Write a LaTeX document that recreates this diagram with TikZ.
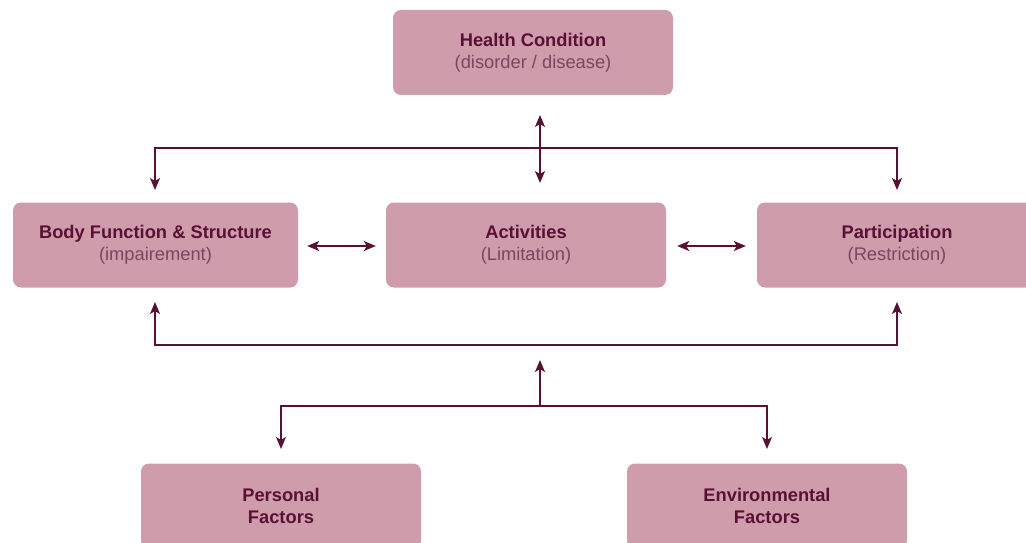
\documentclass[tikz,border=0pt]{standalone}
\usepackage{fontspec}
\setmainfont{Liberation Sans}
\usetikzlibrary{arrows.meta,positioning}
\definecolor{boxfill}{HTML}{CF9CAB}
\definecolor{darkplum}{HTML}{5A1035}
\definecolor{softplum}{HTML}{7A4660}

\tikzset{
  icfbox/.style={rectangle,rounded corners=8pt,fill=boxfill,minimum width=280pt,
    minimum height=85pt,align=center,text=darkplum,inner sep=0pt,
    font=\fontsize{18.3}{22}\selectfont},
  link/.style={draw=darkplum,line width=1.4pt},
}

\begin{document}
\begin{tikzpicture}[x=1pt,y=-1pt,>={Stealth[length=12pt,width=10pt,inset=3pt]}]
\clip (0,0) rectangle (1026,543);
% boxes
\node[icfbox] (hc) at (533,52.5) {\textbf{Health Condition}\\{\color{softplum}(disorder / disease)}};
\node[icfbox,minimum width=285pt] (bfs) at (155.5,245) {\textbf{Body Function \& Structure}\\{\color{softplum}(impairement)}};
\node[icfbox] (act) at (526,245) {\textbf{Activities}\\{\color{softplum}(Limitation)}};
\node[icfbox] (par) at (897,245) {\textbf{Participation}\\{\color{softplum}(Restriction)}};
\node[icfbox] (pf) at (281,506) {\textbf{Personal}\\\textbf{Factors}};
\node[icfbox] (ef) at (767,506) {\textbf{Environmental}\\\textbf{Factors}};
% junction points
\coordinate (hcout) at (540,115);
\coordinate (actin) at (540,183);
\coordinate (tl) at (155,148);
\coordinate (tr) at (897,148);
\coordinate (bfsin) at (155,190);
\coordinate (parin) at (897,190);
\coordinate (bfsup) at (155,302);
\coordinate (bl) at (155,345);
\coordinate (br) at (897,345);
\coordinate (parup) at (897,302);
\coordinate (midtip) at (540,360);
\coordinate (midfork) at (540,406);
\coordinate (fl) at (281,406);
\coordinate (fr) at (767,406);
\coordinate (pfin) at (281,449);
\coordinate (efin) at (767,449);
% health condition links
\draw[link,<->] (hcout) -- (actin);
\draw[link,<->] (bfsin) -- (tl) -- (tr) -- (parin);
% middle row links
\draw[link,<->] ([xshift=9pt,yshift=-1pt]bfs.east) -- ([xshift=-10pt,yshift=-1pt]act.west);
\draw[link,<->] ([xshift=11pt,yshift=-1pt]act.east) -- ([xshift=-11pt,yshift=-1pt]par.west);
% contextual factors links
\draw[link,<->] (bfsup) -- (bl) -- (br) -- (parup);
\draw[link,->] (midfork) -- (midtip);
\draw[link,<->] (pfin) -- (fl) -- (fr) -- (efin);
\end{tikzpicture}
\end{document}
